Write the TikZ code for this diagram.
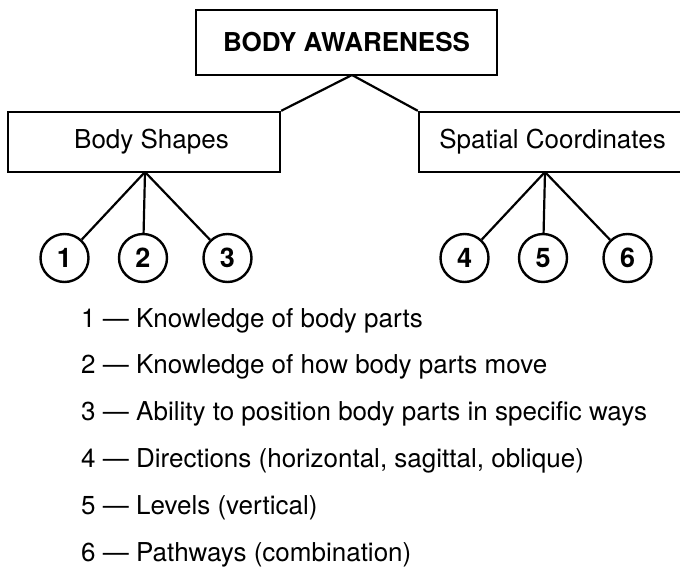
\documentclass[tikz,border=0pt]{standalone}
\usepackage{fontspec}
\setmainfont{TeX Gyre Heros}
\begin{document}
\begin{tikzpicture}[x=1pt, y=-1pt, line width=2.4pt,
  box/.style={draw, rectangle, inner sep=0pt, font=\fontsize{26}{26}\selectfont},
  num/.style={draw, circle, minimum size=48pt, inner sep=0pt,
              font=\fontsize{27}{27}\selectfont\bfseries},
  item/.style={anchor=base west, inner sep=0pt, font=\fontsize{26}{26}\selectfont},
  link/.style={line width=2.2pt}]
\useasboundingbox (0,0) rectangle (680,568);

% headings
\node[box, minimum width=301pt, minimum height=65pt, font=\fontsize{26}{26}\selectfont\bfseries]
  (top) at (346.5,42.5) {BODY AWARENESS};
\node[box, minimum width=272pt, minimum height=60pt]
  (shapes) at (144,142) {\hspace*{15pt}Body Shapes};
\node[box, minimum width=271pt, minimum height=60pt]
  (coords) at (554.5,142) {Spatial Coordinates\hspace*{4pt}};

% branch points
\coordinate (ta) at (352,75);
\coordinate (la) at (145,172);
\coordinate (ra) at (545,172);

\draw[link] (ta) -- (shapes.north east);
\draw[link] (ta) -- (coords.north west);

% numbered circles
\node[num] (c1) at (64.5,258) {1};
\node[num] (c2) at (143,258) {2};
\node[num] (c3) at (227.5,258) {3};
\node[num] (c4) at (464.5,258) {4};
\node[num] (c5) at (543,258) {5};
\node[num] (c6) at (627.5,258) {6};

\foreach \c in {c1,c2,c3} \draw[link] (la) -- (\c);
\foreach \c in {c4,c5,c6} \draw[link] (ra) -- (\c);

% key
\node[item] (k1) at (80,327)   {1 --- Knowledge of body parts};
\node[item] (k2) at (80,373.8) {2 --- Knowledge of how body parts move};
\node[item] (k3) at (80,420.6) {3 --- Ability to position body parts in specific ways};
\node[item] (k4) at (80,467.4) {4 --- Directions (horizontal, sagittal, oblique)};
\node[item] (k5) at (80,514.2) {5 --- Levels (vertical)};
\node[item] (k6) at (80,561)   {6 --- Pathways (combination)};
\end{tikzpicture}
\end{document}
